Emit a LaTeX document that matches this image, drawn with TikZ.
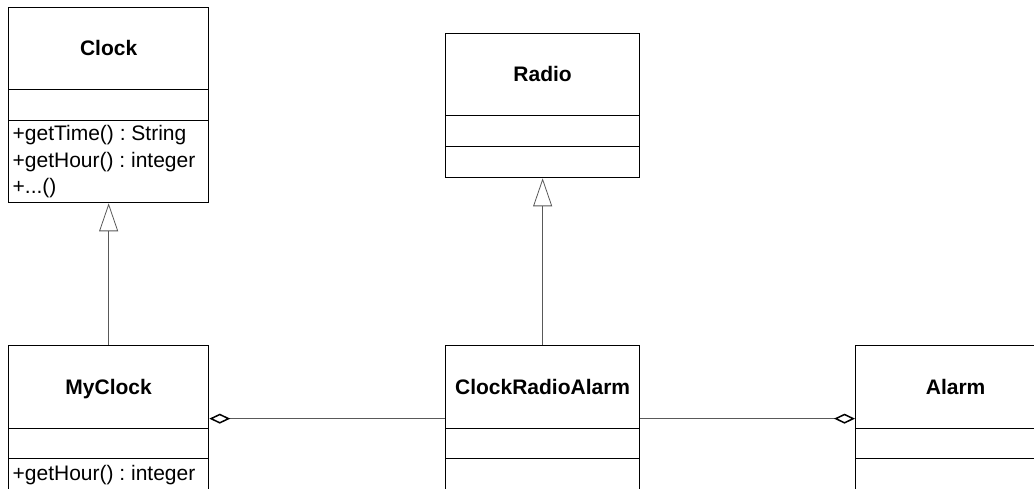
\documentclass[tikz,border=0pt]{standalone}
\usepackage{fontspec}
\setmainfont{Liberation Sans}
\usetikzlibrary{shapes.multipart,arrows.meta,positioning}
\frenchspacing
\tikzstyle{umlclass} = [rectangle split, rectangle split parts=3, draw=black, line width=1.3pt,
  inner xsep=4pt, inner ysep=0pt, rectangle split part align={center,left,left},
  font=\fontsize{21}{26.5}\selectfont]
\tikzstyle{inherit} = [draw=black!65, line width=0.8pt, -{Triangle[open,length=28pt,width=19pt]}]
\tikzstyle{aggr} = [draw=black!65, line width=0.8pt, -{Diamond[open,length=21pt,width=10pt,line width=1.5pt,color=black]}]
\newcommand{\clshead}[2]{\parbox[c][#1][c]{186pt}{\vspace{4pt}\centering\bfseries\strut #2}}
\newcommand{\clsbody}[2]{\parbox[c][#1][c]{186pt}{\raggedright #2}}

\begin{document}
\begin{tikzpicture}[x=1pt,y=-1pt]
\useasboundingbox (0,0) rectangle (1034,489);
\clip (0,0) rectangle (1034,489);

\node(clock)[umlclass,minimum width=200pt,anchor=north west] at (8,7)
  {\clshead{80.7pt}{Clock}\nodepart{two}\clsbody{29.7pt}{}
   \nodepart{three}\clsbody{80.7pt}{+getTime() : String\\+getHour() : integer\\+...()}};

\node(myclock)[umlclass,minimum width=200pt,below=141.7pt of clock]
  {\clshead{81.7pt}{MyClock}\nodepart{two}\clsbody{28.7pt}{}
   \nodepart{three}\clsbody{31.7pt}{+getHour() : integer}};

\node(cra)[umlclass,minimum width=193pt,right=235.7pt of myclock]
  {\clshead{81.7pt}{ClockRadioAlarm}\nodepart{two}\clsbody{28.7pt}{}
   \nodepart{three}\clsbody{31.7pt}{}};

\node(alarm)[umlclass,minimum width=200pt,right=214.7pt of cra]
  {\clshead{81.7pt}{Alarm}\nodepart{two}\clsbody{28.7pt}{}
   \nodepart{three}\clsbody{31.7pt}{}};

\node(radio)[umlclass,minimum width=193pt,above=166.7pt of cra]
  {\clshead{80.7pt}{Radio}\nodepart{two}\clsbody{29.7pt}{}
   \nodepart{three}\clsbody{29.7pt}{}};

\draw[inherit] (myclock) -- (clock);
\draw[inherit] (cra) -- (radio);
\draw[aggr] (cra) -- (myclock);
\draw[aggr] (cra) -- (alarm);

\end{tikzpicture}
\end{document}
